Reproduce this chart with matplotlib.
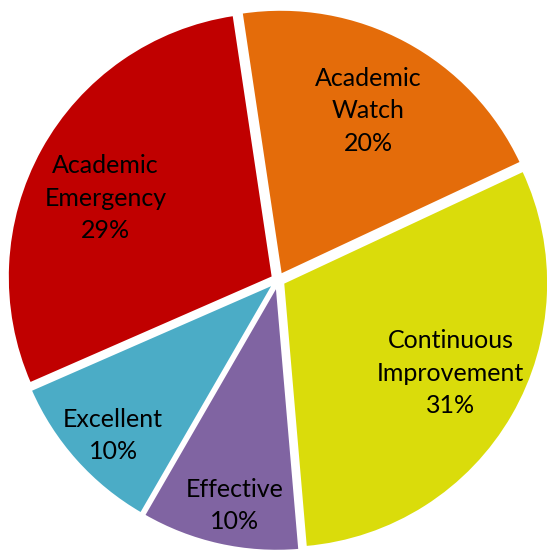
import numpy as np
import matplotlib
matplotlib.use("Agg")
import matplotlib.pyplot as plt

categories = ["Academic\nWatch", "Continuous\nImprovement", "Effective", "Excellent", "Academic\nEmergency"]
values = [20.4, 30.6, 9.7, 10.1, 29.2]
colors = ["#E46C0A", "#DADC0B", "#8064A2", "#4BACC6", "#C00000"]
label_dist = [0.724, 0.741, 0.866, 0.855, 0.72]
label_angle_shift = [0.2, 1.7, 1.6, 1.5, 3.6]

plt.rcParams['font.family'] = ['Lato', 'DejaVu Sans']

fig = plt.figure(figsize=(5.47, 5.52), dpi=100)
ax = fig.add_axes([0, 0, 1, 1])
ax.set_aspect('equal')
ax.axis('off')

wedges, _ = ax.pie(values, colors=colors, startangle=98.5, counterclock=False,
                   explode=[0.0225] * len(values),
                   wedgeprops=dict(edgecolor='white', linewidth=1.5))

total = sum(values)
for w, cat, v, d, s in zip(wedges, categories, values, label_dist, label_angle_shift):
    ang = np.deg2rad((w.theta1 + w.theta2) / 2 + s)
    x, y = d * np.cos(ang), d * np.sin(ang)
    ax.text(x, y, f"{cat}\n{100 * v / total:.0f}%", ha='center', va='center',
            fontsize=18, color='black', linespacing=1.5)

ax.set_xlim(-278 / 265, (547 - 278) / 265)
ax.set_ylim(-(552 - 280) / 265, 280 / 265)

fig.savefig("out.png", dpi=100)
